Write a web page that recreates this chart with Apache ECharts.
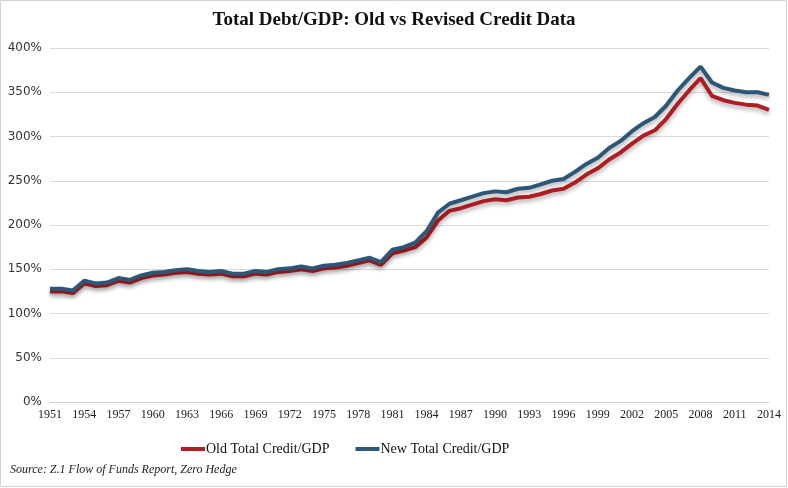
<!DOCTYPE html>
<html>
<head>
<meta charset="utf-8">
<script src="https://cdn.jsdelivr.net/npm/echarts@6/dist/echarts.min.js"></script>
<style>html,body{margin:0;padding:0;background:#fff}#c{width:788px;height:488px}</style>
</head>
<body>
<div id="c"></div>
<script>
const years = [];
for (let y = 1951; y <= 2014; y++) years.push(String(y));

const oldCredit = [125,125,123,134,131,132,137,135,140,143,144,146,147,145,144,145,142,142,145,144,
147,148,150,148,151,152,154,157,160,155,168,171,175,186,205,216,219,223,227,229,
228,231,232,235,239,241,248,257,264,274,282,292,301,307,320,337,352,366,346,341,
338,336,335,330];

const newCredit = [128,128,126,137,134,135,140,138,143,146,147,149,150,148,147,148,145,145,148,147,
150,151,153,151,154,155,157,160,163,158,172,175,180,193,214,224,228,232,236,238,
237,241,242,246,250,252,260,269,276,287,295,306,315,322,335,352,366,379,361,355,
352,350,350,347];

const chart = echarts.init(document.getElementById('c'));
const serif = '"Liberation Serif", "DejaVu Serif", serif';
chart.setOption({
  animation: false,
  backgroundColor: '#fff',
  title: {
    text: 'Total Debt/GDP: Old vs Revised Credit Data',
    left: 'center', top: 6,
    textStyle: { fontFamily: serif, fontSize: 19, fontWeight: 'bold', color: '#111' }
  },
  legend: {
    bottom: 27, left: 176,
    itemWidth: 24, itemHeight: 4, itemGap: 26,
    icon: 'rect',
    textStyle: { fontFamily: serif, fontSize: 14, color: '#111', padding: [0,0,0,-4] },
    data: ['Old Total Credit/GDP', 'New Total Credit/GDP']
  },
  grid: { left: 50, right: 19, top: 48, bottom: 86 },
  xAxis: {
    type: 'category', data: years, boundaryGap: false,
    axisLine: { lineStyle: { color: '#d0d0d0' } },
    axisTick: { show: false },
    axisLabel: { interval: 2, fontFamily: serif, fontSize: 12, color: '#222', margin: 7 },
    splitLine: { show: false }
  },
  yAxis: {
    type: 'value', min: 0, max: 400, interval: 50,
    axisLine: { show: false }, axisTick: { show: false },
    axisLabel: { formatter: '{value}%', fontFamily: '"DejaVu Sans", sans-serif', fontSize: 12, color: '#333', margin: 8 },
    splitLine: { lineStyle: { color: '#d9d9d9' } }
  },
  graphic: [
    { type: 'rect', shape: { x: 0.5, y: 0.5, width: 786, height: 486 }, style: { fill: 'none', stroke: '#d4d4d4', lineWidth: 1 } },
    { type: 'text', left: 10, top: 464, style: { text: 'Source: Z.1 Flow of Funds Report, Zero Hedge', font: 'italic 12px "Liberation Serif", serif', fill: '#222' } }
  ],
  series: [
    { name: 'Old Total Credit/GDP', type: 'line', data: oldCredit, showSymbol: false, symbol: 'none',
      itemStyle: { color: '#b01d22' },
      lineStyle: { width: 4, color: '#b01d22', shadowColor: 'rgba(0,0,0,0.3)', shadowBlur: 4, shadowOffsetY: 3 } },
    { name: 'New Total Credit/GDP', type: 'line', data: newCredit, showSymbol: false, symbol: 'none',
      itemStyle: { color: '#2c5777' },
      lineStyle: { width: 4, color: '#2c5777', shadowColor: 'rgba(0,0,0,0.3)', shadowBlur: 4, shadowOffsetY: 3 } }
  ]
});
</script>
</body>
</html>
